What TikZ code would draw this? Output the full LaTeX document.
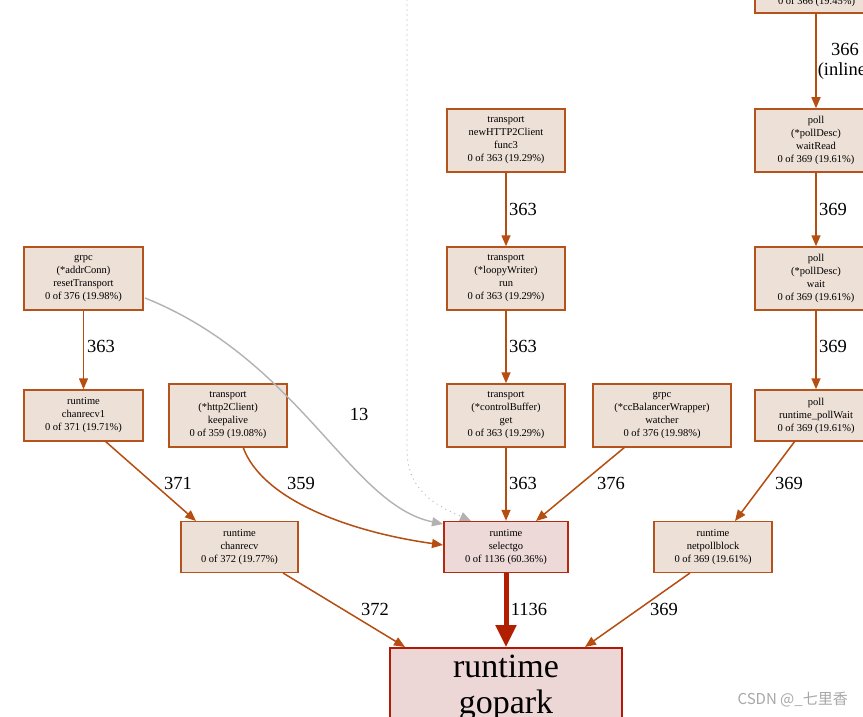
\documentclass[tikz,border=0pt]{standalone}
\usepackage{fontspec}
\setmainfont{Liberation Serif}
\newfontfamily\cjkfont{Noto Sans CJK SC}
\usetikzlibrary{arrows.meta}
\definecolor{nodefill}{HTML}{EDE0D7}
\definecolor{nodeborder}{HTML}{B4531C}
\definecolor{edgecol}{HTML}{B54E10}
\definecolor{selfill}{HTML}{EDD9D8}
\definecolor{selborder}{HTML}{B22A10}
\definecolor{gopfill}{HTML}{EDD6D6}
\definecolor{gopborder}{HTML}{B21A08}
\definecolor{thickcol}{HTML}{B21E00}
\definecolor{graycol}{HTML}{B2B2B2}
\definecolor{wmcol}{HTML}{A8A8A8}
\tikzset{
  fn/.style={draw=nodeborder, fill=nodefill, line width=1.5pt, inner sep=0pt, align=center,
    font=\fontsize{10.5}{13}\selectfont, minimum width=118pt, minimum height=63pt},
  fnthree/.style={fn, minimum height=51pt},
  edge/.style={draw=edgecol, line width=1.5pt, -{Triangle[length=11pt,width=9pt]}},
  grayedge/.style={draw=graycol, line width=1.4pt, -{Triangle[length=11pt,width=9pt]}},
  lbl/.style={font=\fontsize{18.5}{20}\selectfont, inner sep=0pt, align=center},
}
\begin{document}
\begin{tikzpicture}[x=1pt,y=-1pt]
\clip (0,0) rectangle (863,717);
\useasboundingbox (0,0) rectangle (863,717);
\fill[white] (0,0) rectangle (863,717);

% nodes
\draw[draw=nodeborder, fill=nodefill, line width=1.5pt] (755,-50) rectangle (878,13);
\node[font=\fontsize{10.5}{13}\selectfont, inner sep=0pt] (topnode) at (816.5,2) {0 of 366 (19.45\%)};
\coordinate (topbot) at (816,13);

\node[fn] (nhc) at (506,140.5) {transport\\newHTTP2Client\\func3\\0 of 363 (19.29\%)};
\node[fn] (loopy) at (506,278.5) {transport\\(*loopyWriter)\\run\\0 of 363 (19.29\%)};
\node[fn] (cbget) at (506,415.5) {transport\\(*controlBuffer)\\get\\0 of 363 (19.29\%)};
\node[fn, minimum width=138pt] (watcher) at (662,415.5) {grpc\\(*ccBalancerWrapper)\\watcher\\0 of 376 (19.98\%)};
\node[fn, minimum width=119pt] (reset) at (83.5,278.5) {grpc\\(*addrConn)\\resetTransport\\0 of 376 (19.98\%)};
\node[fnthree, minimum width=119pt] (chanrecv1) at (83.5,415.5) {runtime\\chanrecv1\\0 of 371 (19.71\%)};
\node[fn] (keep) at (228,415.5) {transport\\(*http2Client)\\keepalive\\0 of 359 (19.08\%)};
\node[fnthree, minimum width=117pt] (chanrecv) at (239.5,547) {runtime\\chanrecv\\0 of 372 (19.77\%)};
\node[fnthree, draw=selborder, fill=selfill, minimum width=124pt] (selectgo) at (506,547) {runtime\\selectgo\\0 of 1136 (60.36\%)};
\node[fnthree] (netpoll) at (713,547) {runtime\\netpollblock\\0 of 369 (19.61\%)};
\node[fn, minimum width=122pt] (waitread) at (816,140.5) {poll\\(*pollDesc)\\waitRead\\0 of 369 (19.61\%)};
\node[fn, minimum width=122pt] (wait) at (816,278.5) {poll\\(*pollDesc)\\wait\\0 of 369 (19.61\%)};
\node[fnthree, minimum width=122pt] (pollwait) at (816,415.5) {poll\\runtime\_pollWait\\0 of 369 (19.61\%)};
\node[draw=gopborder, fill=gopfill, line width=1.5pt, minimum width=232pt, minimum height=100pt, anchor=north, inner sep=0pt] (gopark) at (506,647) {};
\node[font=\fontsize{34}{36}\selectfont, align=center, anchor=north, inner sep=0pt] (goparktext) at (506,655) {runtime\\gopark};

% edges
\draw[edge] (topbot) -- (waitread.north);
\node[lbl] at (845,61) {366\\(inline)};
\draw[edge] (waitread) -- (wait);
\node[lbl] at (833,209) {369};
\draw[edge] (wait) -- (pollwait);
\node[lbl] at (833,346) {369};
\draw[edge] (795,441) -- (735,521);
\node[lbl] at (789,483) {369};
\draw[edge] (690,573) -- (585,647);
\node[lbl] at (664,609) {369};

\draw[edge] (nhc) -- (loopy);
\node[lbl] at (523,209) {363};
\draw[edge] (loopy) -- (cbget);
\node[lbl] at (523,346) {363};
\draw[edge] (cbget) -- (selectgo);
\node[lbl] at (523,483) {363};
\draw[edge] (625,447) -- (536,521);
\node[lbl] at (611,483) {376};

\draw[edge] (reset) -- (chanrecv1);
\node[lbl] at (101,346) {363};
\draw[edge] (105,441) -- (196,521);
\node[lbl] at (178,483) {371};
\draw[edge] (243,447) .. controls (262,500) and (350,532) .. (443,545);
\node[lbl] at (301,483) {359};
\draw[edge] (283,573) -- (405,647);
\node[lbl] at (375,609) {372};

\draw[grayedge] (145,298) .. controls (300,360) and (350,505) .. (443,524);
\node[lbl] at (359,414) {13};
\draw[draw=graycol, line width=1.3pt, line cap=round, dash pattern=on 0pt off 5pt] (407,-5) -- (407,450) .. controls (407,490) and (435,505) .. (462,517);
\draw[draw=graycol, line width=1.3pt, -{Triangle[length=11pt,width=9pt]}] (461,516.5) -- (471,521);

\draw[draw=thickcol, line width=5pt, -{Triangle[length=22pt,width=20pt]}] (selectgo) -- (506,647);
\node[lbl] at (529,609) {1136};

\node[font=\fontsize{15}{16}\cjkfont, text=wmcol, anchor=east, inner sep=0pt] (wm) at (848,700) {CSDN @\_七里香};
\end{tikzpicture}
\end{document}
